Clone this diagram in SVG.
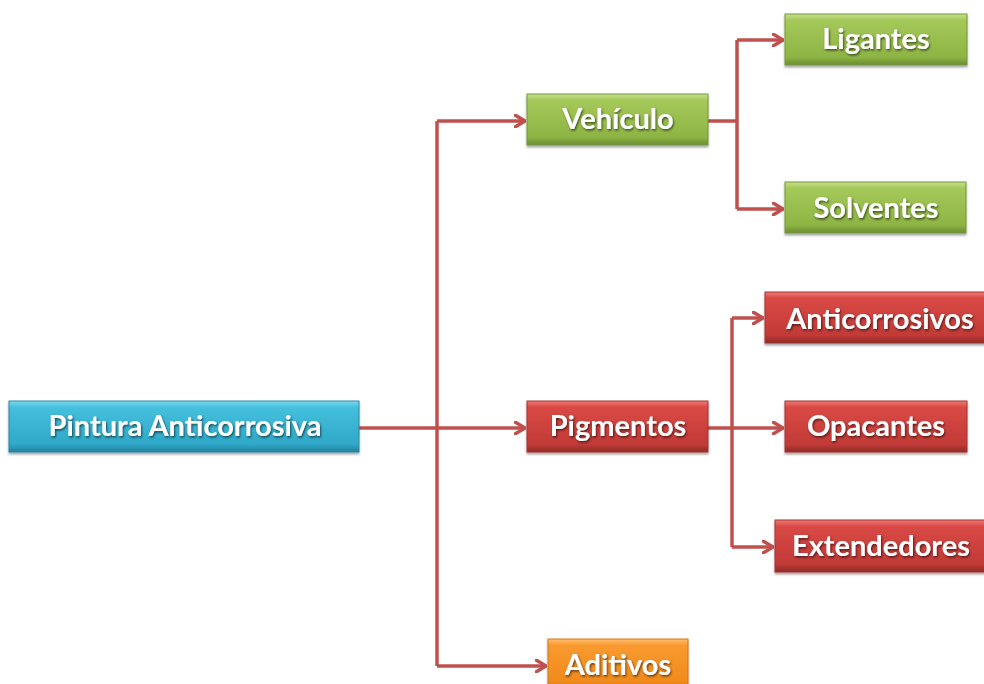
<svg xmlns="http://www.w3.org/2000/svg" width="984" height="684" viewBox="0 0 984 684">
<defs>
<linearGradient id="gBlue" x1="0" y1="0" x2="0" y2="1">
<stop offset="0" stop-color="#7fd8ee"/><stop offset="0.12" stop-color="#45c0dd"/><stop offset="0.85" stop-color="#2fa8c8"/><stop offset="1" stop-color="#267f99"/>
</linearGradient>
<linearGradient id="gGreen" x1="0" y1="0" x2="0" y2="1">
<stop offset="0" stop-color="#c6e08c"/><stop offset="0.12" stop-color="#a5c95a"/><stop offset="0.85" stop-color="#8db443"/><stop offset="1" stop-color="#6a8a33"/>
</linearGradient>
<linearGradient id="gRed" x1="0" y1="0" x2="0" y2="1">
<stop offset="0" stop-color="#f07a75"/><stop offset="0.12" stop-color="#d94945"/><stop offset="0.85" stop-color="#c23a37"/><stop offset="1" stop-color="#8f2a28"/>
</linearGradient>
<linearGradient id="gOrange" x1="0" y1="0" x2="0" y2="1">
<stop offset="0" stop-color="#ffc070"/><stop offset="0.12" stop-color="#f99a30"/><stop offset="0.85" stop-color="#f08a1c"/><stop offset="1" stop-color="#b86410"/>
</linearGradient>
<filter id="sh" x="-5%" y="-10%" width="110%" height="130%">
<feDropShadow dx="0" dy="2" stdDeviation="1.2" flood-color="#000" flood-opacity="0.35"/>
</filter>
<filter id="tsh" x="-5%" y="-20%" width="110%" height="150%">
<feDropShadow dx="1" dy="1.5" stdDeviation="1" flood-color="#000" flood-opacity="0.6"/>
</filter>
<marker id="arr" viewBox="0 0 12 14" refX="11" refY="7" markerWidth="12" markerHeight="14" markerUnits="userSpaceOnUse" orient="auto">
<path d="M1,1 L11,7 L1,13" fill="none" stroke="#c0504d" stroke-width="3.5" stroke-linecap="round" stroke-linejoin="round"/>
</marker>
<style>
.lbl{font-family:Lato,"Open Sans","Liberation Sans",sans-serif;font-weight:bold;font-size:29px;fill:#fff;text-anchor:middle;filter:url(#tsh)}
.conn{fill:none;stroke:#c0504d;stroke-width:3.5;stroke-linejoin:miter}
.blue{fill:url(#gBlue);stroke:#2a8aa5;stroke-width:1}
.green{fill:url(#gGreen);stroke:#76973a;stroke-width:1}
.red{fill:url(#gRed);stroke:#a33533;stroke-width:1}
.orange{fill:url(#gOrange);stroke:#cf7616;stroke-width:1}
</style>
</defs>
<rect width="984" height="684" fill="#fff"/>
<g id="connectors">
<path class="conn" d="M359,428 H437"/>
<path class="conn" d="M437,121 V666"/>
<path class="conn" d="M437,121 H525" marker-end="url(#arr)"/>
<path class="conn" d="M437,428 H525" marker-end="url(#arr)"/>
<path class="conn" d="M437,666 H546" marker-end="url(#arr)"/>
<path class="conn" d="M708,121 H737"/>
<path class="conn" d="M737,40 V209"/>
<path class="conn" d="M737,40 H783" marker-end="url(#arr)"/>
<path class="conn" d="M737,209 H783" marker-end="url(#arr)"/>
<path class="conn" d="M708,428 H732"/>
<path class="conn" d="M732,318 V547"/>
<path class="conn" d="M732,318 H763" marker-end="url(#arr)"/>
<path class="conn" d="M732,428 H783" marker-end="url(#arr)"/>
<path class="conn" d="M732,547 H773" marker-end="url(#arr)"/>
</g>
<g id="pintura"><rect class="blue" x="9" y="401" width="350" height="51" filter="url(#sh)"/><text class="lbl" x="185" y="436">Pintura Anticorrosiva</text></g>
<g id="vehiculo"><rect class="green" x="527" y="94" width="181" height="51" filter="url(#sh)"/><text class="lbl" x="618" y="129">Vehículo</text></g>
<g id="ligantes"><rect class="green" x="785" y="14" width="182" height="51" filter="url(#sh)"/><text class="lbl" x="876" y="49">Ligantes</text></g>
<g id="solventes"><rect class="green" x="785" y="182" width="181" height="51" filter="url(#sh)"/><text class="lbl" x="876" y="218">Solventes</text></g>
<g id="pigmentos"><rect class="red" x="527" y="401" width="181" height="51" filter="url(#sh)"/><text class="lbl" x="618" y="436">Pigmentos</text></g>
<g id="anticorrosivos"><rect class="red" x="765" y="292" width="222" height="51" filter="url(#sh)"/><text class="lbl" x="880" y="329">Anticorrosivos</text></g>
<g id="opacantes"><rect class="red" x="785" y="401" width="182" height="51" filter="url(#sh)"/><text class="lbl" x="876" y="436">Opacantes</text></g>
<g id="extendedores"><rect class="red" x="775" y="520" width="212" height="52" filter="url(#sh)"/><text class="lbl" x="881" y="556">Extendedores</text></g>
<g id="aditivos"><rect class="orange" x="548" y="639" width="140" height="51" filter="url(#sh)"/><text class="lbl" x="618" y="675">Aditivos</text></g>
</svg>
